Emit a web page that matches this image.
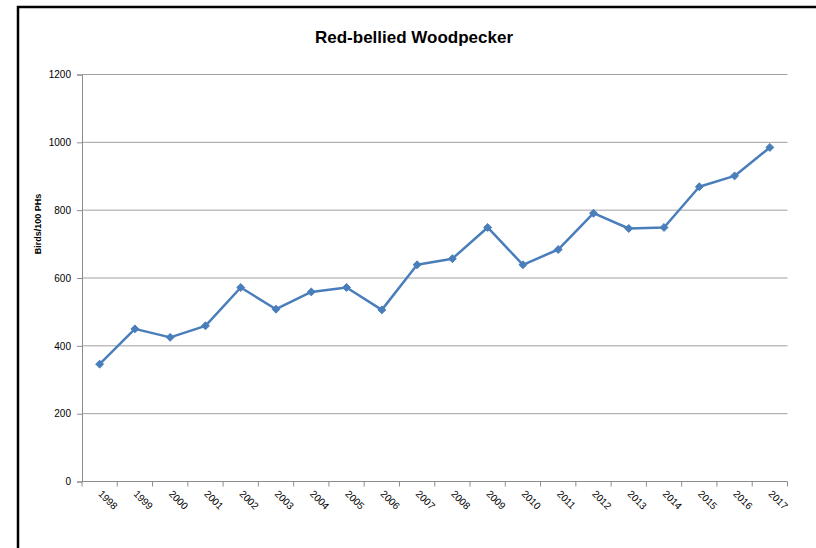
<!DOCTYPE html>
<html>
<head>
<meta charset="utf-8">
<script src="https://cdn.jsdelivr.net/npm/d3@7"></script>
<style>
  body { margin: 0; background: #fff; }
  text { font-family: "Liberation Sans", Arial, sans-serif; fill: #000; }
</style>
</head>
<body>
<script>
// Data
const years = ['1998', '1999', '2000', '2001', '2002', '2003', '2004', '2005', '2006', '2007',
  '2008', '2009', '2010', '2011', '2012', '2013', '2014', '2015', '2016', '2017'];
const birds = [346, 450, 425, 459, 572, 508, 559, 572, 506, 639,
  657, 749, 639, 684, 791, 746, 749, 869, 901, 985];
const yTicks = [0, 200, 400, 600, 800, 1000, 1200];

const w = 816;
const h = 548;
const plotLeft = 82;
const plotRight = 787.5;
const plotTop = 74.5;
const plotBottom = 481.5;

const svg = d3
  .select('body')
  .append('svg')
  .attr('width', w)
  .attr('height', h);

// Outer chart border (only top and left are visible)
svg
  .append('path')
  .attr('d', 'M18,' + h + 'V7H' + w)
  .attr('fill', 'none')
  .attr('stroke', '#000')
  .attr('stroke-width', 2.5);

const xScale = d3
  .scaleBand()
  .domain(years)
  .range([plotLeft, plotRight]);

const yScale = d3
  .scaleLinear()
  .domain([0, 1200])
  .range([plotBottom, plotTop]);

// Gridlines
svg
  .append('g')
  .selectAll('line')
  .data(yTicks.slice(1))
  .enter()
  .append('line')
  .attr('x1', plotLeft)
  .attr('x2', plotRight)
  .attr('y1', d => yScale(d))
  .attr('y2', d => yScale(d))
  .attr('stroke', '#a0a0a0')
  .attr('stroke-width', 1);

// Y axis
const yAxis = d3
  .axisLeft(yScale)
  .tickValues(yTicks)
  .tickFormat(d3.format('d'))
  .tickSize(5)
  .tickPadding(6);

const gy = svg
  .append('g')
  .attr('transform', 'translate(' + plotLeft + ',0)')
  .call(yAxis);
gy.select('.domain').attr('stroke', '#8c8c8c');
gy.selectAll('.tick line').attr('stroke', '#8c8c8c');
gy.selectAll('.tick text')
  .attr('font-size', 10)
  .attr('font-family', '"Liberation Sans", Arial, sans-serif')
  .attr('fill', '#000');

// X axis: ticks at category boundaries
const xg = svg.append('g');
xg.append('line')
  .attr('x1', plotLeft)
  .attr('x2', plotRight)
  .attr('y1', plotBottom)
  .attr('y2', plotBottom)
  .attr('stroke', '#8c8c8c');
xg.selectAll('.xtick')
  .data(years.concat(['end']))
  .enter()
  .append('line')
  .attr('class', 'xtick')
  .attr('x1', (d, i) => plotLeft + i * xScale.step())
  .attr('x2', (d, i) => plotLeft + i * xScale.step())
  .attr('y1', plotBottom)
  .attr('y2', plotBottom + 5)
  .attr('stroke', '#8c8c8c');
xg.selectAll('.xlabel')
  .data(years)
  .enter()
  .append('text')
  .attr('class', 'xlabel')
  .attr('transform', d => 'translate(' + (xScale(d) + xScale.bandwidth() / 2 - 2) + ',' + (plotBottom + 13) + ') rotate(45)')
  .attr('font-size', 10)
  .text(d => d);

// Line
const line = d3
  .line()
  .x((d, i) => xScale(years[i]) + xScale.bandwidth() / 2)
  .y(d => yScale(d));

svg
  .append('path')
  .datum(birds)
  .attr('d', line)
  .attr('fill', 'none')
  .attr('stroke', '#4a7ebb')
  .attr('stroke-width', 2.5)
  .attr('stroke-linejoin', 'round');

// Diamond markers
svg
  .append('g')
  .selectAll('path')
  .data(birds)
  .enter()
  .append('path')
  .attr('d', d3.symbol().type(d3.symbolDiamond2).size(40))
  .attr('transform', (d, i) => 'translate(' + (xScale(years[i]) + xScale.bandwidth() / 2) + ',' + yScale(d) + ')')
  .attr('fill', '#4a7ebb')
  .attr('stroke', '#4a7ebb')
  .attr('stroke-width', 1);

// Title
svg
  .append('text')
  .attr('x', 414)
  .attr('y', 43)
  .attr('text-anchor', 'middle')
  .attr('font-size', 17)
  .attr('font-weight', 'bold')
  .text('Red-bellied Woodpecker');

// Y axis title
svg
  .append('text')
  .attr('transform', 'translate(41,' + 224 + ') rotate(-90)')
  .attr('text-anchor', 'middle')
  .attr('font-size', 9)
  .attr('font-weight', 'bold')
  .text('Birds/100 PHs');
</script>
</body>
</html>
